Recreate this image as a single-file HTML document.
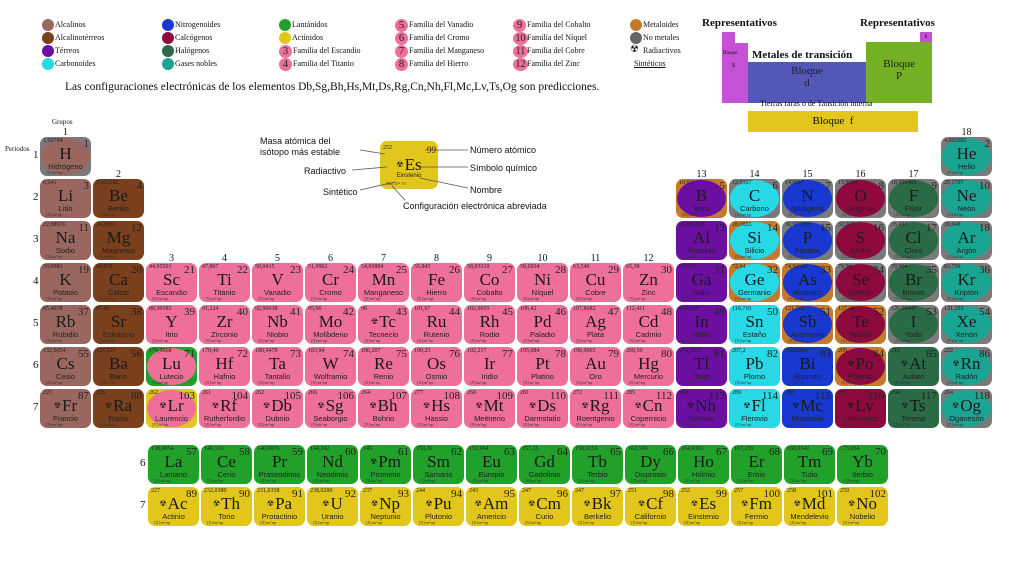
<!DOCTYPE html>
<html><head><meta charset="utf-8">
<style>
*{margin:0;padding:0;box-sizing:border-box}
body{width:1024px;height:576px;background:#fff;position:relative;overflow:hidden;font-family:"Liberation Serif",serif;color:#111}
.a{position:absolute}
.c{position:absolute;width:51px;height:39px;border-radius:7px;overflow:hidden}
.c .el{position:absolute;left:1px;top:1px;right:1px;bottom:1px;border-radius:50%}
.c .m{position:absolute;left:3px;top:1px;font-size:6px;color:#222}
.c .n{position:absolute;right:2px;top:1px;font-size:11px;color:#222}
.c .s{position:absolute;left:0;right:0;top:7px;text-align:center;font-size:17px;color:#1a1a1a;white-space:nowrap}
.c .s b{font-weight:normal;font-size:8px;vertical-align:3px;margin-right:1px}
.c .nm{position:absolute;left:0;right:0;top:25px;text-align:center;font-family:"Liberation Sans",sans-serif;font-size:7.5px;color:#222;white-space:nowrap}
.c .cf{position:absolute;left:6px;top:33px;font-size:4px;color:#333}
.lg{position:absolute;font-size:8px;white-space:nowrap}
.dot{position:absolute;width:12px;height:12px;border-radius:50%}
.num{position:absolute;width:13px;height:13px;border-radius:50%;background:#ee6f98;font-size:11px;text-align:center;line-height:13px;color:#222}
.gl{position:absolute;font-size:10px;width:51px;text-align:center}
.k{position:absolute;font-family:"Liberation Sans",sans-serif;font-size:9px;white-space:nowrap}
</style></head><body>
<div id="root"></div>

<div class="dot" style="left:42px;top:19px;background:#9a6660"></div><div class="lg" style="left:55px;top:20px">Alcalinos</div>
<div class="dot" style="left:42px;top:32px;background:#7a3f1c"></div><div class="lg" style="left:55px;top:33px">Alcalinotérreos</div>
<div class="dot" style="left:42px;top:45px;background:#6a0fa0"></div><div class="lg" style="left:55px;top:46px">Térreos</div>
<div class="dot" style="left:42px;top:58px;background:#26d9e4"></div><div class="lg" style="left:55px;top:59px">Carbonoides</div>
<div class="dot" style="left:162px;top:19px;background:#1838d0"></div><div class="lg" style="left:175px;top:20px">Nitrogenoides</div>
<div class="dot" style="left:162px;top:32px;background:#8e0a3e"></div><div class="lg" style="left:175px;top:33px">Calcógenos</div>
<div class="dot" style="left:162px;top:45px;background:#2a6a44"></div><div class="lg" style="left:175px;top:46px">Halógenos</div>
<div class="dot" style="left:162px;top:58px;background:#1aa592"></div><div class="lg" style="left:175px;top:59px">Gases nobles</div>
<div class="dot" style="left:279px;top:19px;background:#22a12a"></div><div class="lg" style="left:292px;top:20px">Lantánidos</div>
<div class="dot" style="left:279px;top:32px;background:#e3c61b"></div><div class="lg" style="left:292px;top:33px">Actínidos</div>
<div class="num" style="left:279px;top:45px">3</div><div class="lg" style="left:293px;top:46px">Familia del Escandio</div>
<div class="num" style="left:279px;top:58px">4</div><div class="lg" style="left:293px;top:59px">Familia del Titanio</div>
<div class="num" style="left:395px;top:19px">5</div><div class="lg" style="left:409px;top:20px">Familia del Vanadio</div>
<div class="num" style="left:395px;top:32px">6</div><div class="lg" style="left:409px;top:33px">Familia del Cromo</div>
<div class="num" style="left:395px;top:45px">7</div><div class="lg" style="left:409px;top:46px">Familia del Manganeso</div>
<div class="num" style="left:395px;top:58px">8</div><div class="lg" style="left:409px;top:59px">Familia del Hierro</div>
<div class="num" style="left:513px;top:19px">9</div><div class="lg" style="left:527px;top:20px">Familia del Cobalto</div>
<div class="num" style="left:513px;top:32px;width:15px;font-size:10px">10</div><div class="lg" style="left:527px;top:33px">Familia del Níquel</div>
<div class="num" style="left:513px;top:45px;width:15px;font-size:10px">11</div><div class="lg" style="left:527px;top:46px">Familia del Cobre</div>
<div class="num" style="left:513px;top:58px;width:15px;font-size:10px">12</div><div class="lg" style="left:527px;top:59px">Familia del Zinc</div>
<div class="dot" style="left:630px;top:19px;background:#c47a2a"></div><div class="lg" style="left:643px;top:20px">Metaloides</div>
<div class="dot" style="left:630px;top:32px;background:#666"></div><div class="lg" style="left:643px;top:33px">No metales</div>
<div class="lg" style="left:630px;top:44px;font-size:10px">☢</div><div class="lg" style="left:643px;top:46px">Radiactivos</div>
<div class="lg" style="left:634px;top:59px;text-decoration:underline">Sintéticos</div>

<div class="a" style="left:65px;top:81px;font-size:11.5px;white-space:nowrap">Las configuraciones electrónicas de los elementos Db,Sg,Bh,Hs,Mt,Ds,Rg,Cn,Nh,Fl,Mc,Lv,Ts,Og son predicciones.</div>

<div class="a" style="left:702px;top:17px;font-size:11px;font-weight:bold">Representativos</div>
<div class="a" style="left:860px;top:17px;font-size:11px;font-weight:bold">Representativos</div>
<div class="a" style="left:722px;top:32px;width:13px;height:71px;background:#c552d6"></div>
<div class="a" style="left:735px;top:43px;width:13px;height:60px;background:#c552d6"></div>
<div class="a" style="left:723px;top:51px;font-size:5px">Bloque</div>
<div class="a" style="left:732px;top:60px;font-size:8px">s</div>
<div class="a" style="left:748px;top:62px;width:118px;height:41px;background:#5357b8"></div>
<div class="a" style="left:752px;top:49px;font-size:11px;font-weight:bold">Metales de transición</div>
<div class="a" style="left:748px;top:65px;width:118px;text-align:center;font-size:11px;color:#222">Bloque<br>d</div>
<div class="a" style="left:866px;top:42px;width:66px;height:61px;background:#73b024"></div>
<div class="a" style="left:920px;top:32px;width:12px;height:10px;background:#c552d6;font-size:7px;text-align:center">s</div>
<div class="a" style="left:866px;top:58px;width:66px;text-align:center;font-size:11px;color:#222">Bloque<br>P</div>
<div class="a" style="left:760px;top:99px;font-size:8px">Tierras raras o de Tansición interna</div>
<div class="a" style="left:748px;top:111px;width:170px;height:21px;background:#e3c61b;font-size:11px;text-align:center;line-height:21px">Bloque &nbsp;f</div>

<div class="c" style="left:380px;top:141px;width:58px;height:48px;background:#e3c61b">
<div class="m" style="top:4px">252</div><div class="n" style="top:4px;font-size:9px">99</div>
<div class="s" style="top:14px"><b>☢</b>Es</div><div class="nm" style="top:32px;font-size:6px">Einstenio</div><div class="cf" style="top:40px">[Rn] 5f¹¹ 7s²</div></div>
<div class="k" style="left:260px;top:136px;line-height:11px">Masa atómica del<br>isótopo más estable</div>
<div class="k" style="left:304px;top:166px">Radiactivo</div>
<div class="k" style="left:323px;top:187px">Sintético</div>
<div class="k" style="left:470px;top:145px">Número atómico</div>
<div class="k" style="left:470px;top:163px">Símbolo químico</div>
<div class="k" style="left:470px;top:185px">Nombre</div>
<div class="k" style="left:403px;top:201px">Configuración electrónica abreviada</div>
<svg class="a" style="left:0;top:0" width="1024" height="576"><g stroke="#555" stroke-width="0.8">
<line x1="360" y1="150" x2="385" y2="154"/><line x1="352" y1="170" x2="387" y2="167"/><line x1="360" y1="190" x2="395" y2="182"/>
<line x1="425" y1="150" x2="468" y2="150"/><line x1="420" y1="167" x2="468" y2="167"/><line x1="420" y1="178" x2="468" y2="188"/><line x1="392" y1="186" x2="405" y2="200"/>
</g></svg>

<div class="a" style="left:52px;top:118px;font-size:7px">Grupos</div>
<div class="a" style="left:5px;top:145px;font-size:7px">Periodos</div>

<script>
const C={alk:'#9a6660',ae:'#7a3f1c',tr:'#ee6f98',la:'#22a12a',ac:'#e3c61b',te:'#6a0fa0',ca:'#26d9e4',ni:'#1838d0',o:'#8e0a3e',ha:'#2a6a44',no:'#1aa592',me:'#c47a2a',nm:'#7a7a7a'};
const E=`1,H,Hidrógeno,1.00794,1,1,alk,nm
2,He,Helio,4.002602,18,1,no,nm
3,Li,Litio,6.941,1,2,alk
4,Be,Berilio,9.012182,2,2,ae
5,B,Boro,10.811,13,2,te,me
6,C,Carbono,12.0107,14,2,ca,nm
7,N,Nitrógeno,14.0067,15,2,ni,nm
8,O,Oxígeno,15.9994,16,2,o,nm
9,F,Flúor,18.998403,17,2,ha,nm
10,Ne,Neón,20.1797,18,2,no,nm
11,Na,Sodio,22.98976,1,3,alk
12,Mg,Magnesio,24.3050,2,3,ae
13,Al,Aluminio,26.981538,13,3,te
14,Si,Silicio,28.0855,14,3,ca,me
15,P,Fósforo,30.973762,15,3,ni,nm
16,S,Azufre,32.065,16,3,o,nm
17,Cl,Cloro,35.453,17,3,ha,nm
18,Ar,Argón,39.948,18,3,no,nm
19,K,Potasio,39.0983,1,4,alk
20,Ca,Calcio,40.078,2,4,ae
21,Sc,Escandio,44.95591,3,4,tr
22,Ti,Titanio,47.867,4,4,tr
23,V,Vanadio,50.9415,5,4,tr
24,Cr,Cromo,51.9962,6,4,tr
25,Mn,Manganeso,54.93804,7,4,tr
26,Fe,Hierro,55.845,8,4,tr
27,Co,Cobalto,58.93319,9,4,tr
28,Ni,Níquel,58.6934,10,4,tr
29,Cu,Cobre,63.546,11,4,tr
30,Zn,Zinc,65.38,12,4,tr
31,Ga,Galio,69.723,13,4,te
32,Ge,Germanio,72.64,14,4,ca,me
33,As,Arsénico,74.92160,15,4,ni,me
34,Se,Selenio,78.96,16,4,o,nm
35,Br,Bromo,79.904,17,4,ha,nm
36,Kr,Kriptón,83.798,18,4,no,nm
37,Rb,Rubidio,85.4678,1,5,alk
38,Sr,Estroncio,87.62,2,5,ae
39,Y,Itrio,88.90585,3,5,tr
40,Zr,Zirconio,91.224,4,5,tr
41,Nb,Niobio,92.90638,5,5,tr
42,Mo,Molibdeno,95.96,6,5,tr
43,Tc,Tecnecio,98,7,5,tr,,r
44,Ru,Rutenio,101.07,8,5,tr
45,Rh,Rodio,102.9055,9,5,tr
46,Pd,Paladio,106.42,10,5,tr
47,Ag,Plata,107.8682,11,5,tr
48,Cd,Cadmio,112.411,12,5,tr
49,In,Indio,114.818,13,5,te
50,Sn,Estaño,118.710,14,5,ca
51,Sb,Antimonio,121.760,15,5,ni,me
52,Te,Telurio,127.60,16,5,o,me
53,I,Yodo,126.90447,17,5,ha,nm
54,Xe,Xenón,131.293,18,5,no,nm
55,Cs,Cesio,132.9054,1,6,alk
56,Ba,Bario,137.327,2,6,ae
71,Lu,Lutecio,174.9668,3,6,tr,la
72,Hf,Hafnio,178.49,4,6,tr
73,Ta,Tantalio,180.9478,5,6,tr
74,W,Wolframio,183.84,6,6,tr
75,Re,Renio,186.207,7,6,tr
76,Os,Osmio,190.23,8,6,tr
77,Ir,Iridio,192.217,9,6,tr
78,Pt,Platino,195.084,10,6,tr
79,Au,Oro,196.9665,11,6,tr
80,Hg,Mercurio,200.59,12,6,tr
81,Tl,Talio,204.3833,13,6,te
82,Pb,Plomo,207.2,14,6,ca
83,Bi,Bismuto,208.9804,15,6,ni
84,Po,Polonio,209,16,6,o,me,r
85,At,Astato,210,17,6,ha,,r
86,Rn,Radón,222,18,6,no,nm,r
87,Fr,Francio,223,1,7,alk,,r
88,Ra,Radio,226,2,7,ae,,r
103,Lr,Laurencio,262,3,7,tr,ac,r
104,Rf,Rutherfordio,261,4,7,tr,,r
105,Db,Dubnio,262,5,7,tr,,r
106,Sg,Seaborgio,266,6,7,tr,,r
107,Bh,Bohrio,264,7,7,tr,,r
108,Hs,Hassio,277,8,7,tr,,r
109,Mt,Meitnerio,268,9,7,tr,,r
110,Ds,Darmstatio,281,10,7,tr,,r
111,Rg,Roentgenio,272,11,7,tr,,r
112,Cn,Copernicio,285,12,7,tr,,r
113,Nh,Nihonio,284,13,7,te,,r
114,Fl,Flerovio,289,14,7,ca,,r
115,Mc,Moscovio,288,15,7,ni,,r
116,Lv,Livermorio,293,16,7,o,,r
117,Ts,Teneso,294,17,7,ha,,r
118,Og,Oganesón,294,18,7,no,nm,r`;
const L=`La,Lantano,138.9054;Ce,Cerio,140.116;Pr,Praseodimio,140.9076;Nd,Neodimio,144.242;Pm,Prometio,145,r;Sm,Samario,150.36;Eu,Europio,151.964;Gd,Gadolinio,157.25;Tb,Terbio,158.9253;Dy,Disprosio,162.500;Ho,Holmio,164.9303;Er,Erbio,167.259;Tm,Tulio,168.9342;Yb,Iterbio,173.054`;
const A=`Ac,Actinio,227,r;Th,Torio,232.0380,r;Pa,Protactinio,231.0358,r;U,Uranio,238.0289,r;Np,Neptunio,237,r;Pu,Plutonio,244,r;Am,Americio,243,r;Cm,Curio,247,r;Bk,Berkelio,247,r;Cf,Californio,251,r;Es,Einstenio,252,r;Fm,Fermio,257,r;Md,Mendelevio,258,r;No,Nobelio,259,r`;
let h='';
function cell(x,y,num,sym,name,mass,col,bg,rad){
  const m=String(mass).replace('.',',');
  let inner = bg ? `<div class="el" style="background:${C[col]}"></div>` : '';
  h+=`<div class="c" style="left:${x}px;top:${y}px;background:${bg?C[bg]:C[col]}">${inner}<div class="m">${m}</div><div class="n">${num}</div><div class="s">${rad?'<b>☢</b>':''}${sym}</div><div class="nm">${name}</div><div class="cf">[X] ns² np</div></div>`;
}
E.split('\n').forEach(r=>{const f=r.split(',');cell(40+(f[4]-1)*53,137+(f[5]-1)*42,f[0],f[1],f[2],f[3],f[6],f[7]||'',f[8]==='r');});
L.split(';').forEach((r,i)=>{const f=r.split(',');cell(148+i*53,445,57+i,f[0],f[1],f[2],'la','',f[3]==='r');});
A.split(';').forEach((r,i)=>{const f=r.split(',');cell(148+i*53,487,89+i,f[0],f[1],f[2],'ac','',f[3]==='r');});
const g=[[1,130],[2,172],[13,172],[14,172],[15,172],[16,172],[17,172],[18,130]];
for(let i=3;i<=12;i++)g.push([i,256]);
g.forEach(([n,y])=>{h+=`<div class="gl" style="left:${40+(n-1)*53}px;top:${y-3}px">${n}</div>`});
for(let p=1;p<=7;p++)h+=`<div class="a" style="left:33px;top:${137+(p-1)*42+12}px;font-size:11px">${p}</div>`;
h+=`<div class="a" style="left:140px;top:457px;font-size:11px">6</div><div class="a" style="left:140px;top:499px;font-size:11px">7</div>`;
document.getElementById('root').innerHTML=h;
</script>
</body></html>
